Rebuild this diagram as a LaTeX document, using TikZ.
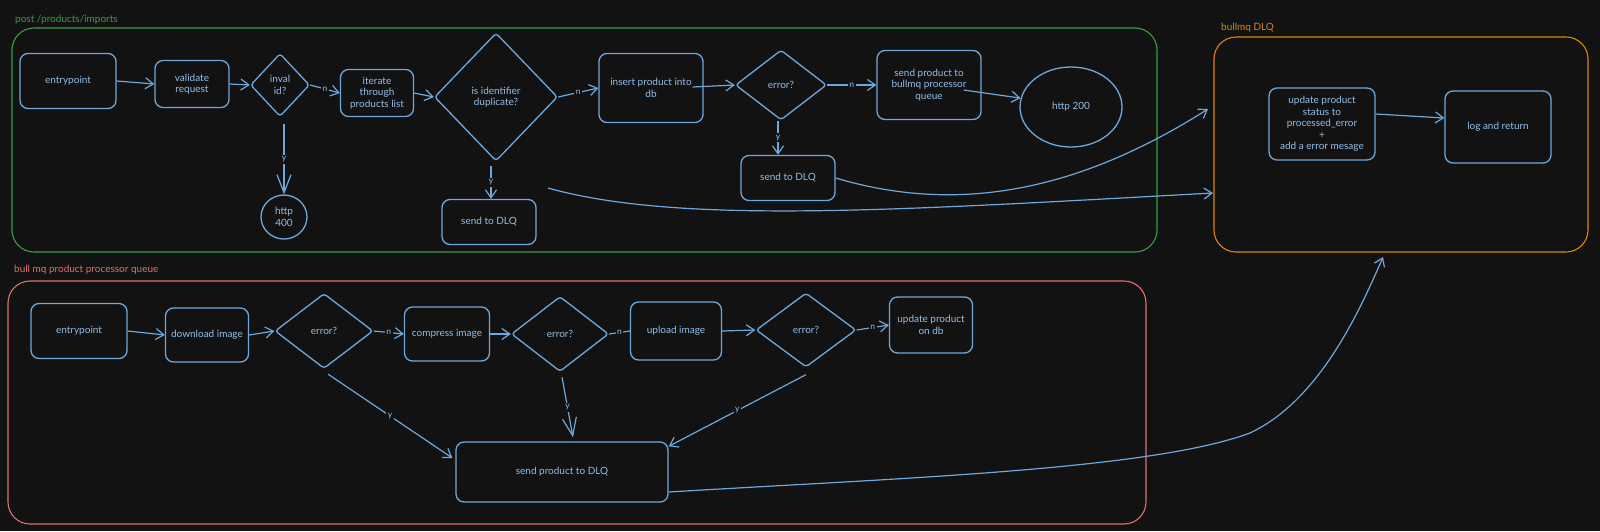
\documentclass[tikz,border=0pt]{standalone}
\usepackage{fontspec}
\setmainfont{Lato}
\usetikzlibrary{shapes.geometric,arrows.meta,calc}
\definecolor{bg}{HTML}{121212}
\definecolor{ink}{HTML}{6FA8DC}
\definecolor{txt}{HTML}{92BEE8}
\definecolor{grn}{HTML}{3E9B43}
\definecolor{org}{HTML}{D9860F}
\definecolor{rd}{HTML}{E0716C}
\begin{document}
\begin{tikzpicture}[x=1pt,y=-1pt,
  box/.style={draw=ink, rounded corners=8pt, line width=1.3pt, text=txt,
    font=\fontsize{10}{11.5}\selectfont, align=center, inner sep=0pt},
  dia/.style={draw=ink, diamond, rounded corners=3pt, line width=1.3pt, text=txt,
    font=\fontsize{10}{11.5}\selectfont, align=center, inner sep=0pt},
  ell/.style={draw=ink, ellipse, line width=1.3pt, text=txt,
    font=\fontsize{10}{11.5}\selectfont, align=center, inner sep=0pt},
  frm/.style={line width=1.1pt, rounded corners=22pt},
  ttl/.style={anchor=west, font=\fontsize{10}{11}\selectfont, inner sep=0pt},
  lbl/.style={fill=bg, text=txt, font=\fontsize{8.5}{9}\selectfont, inner sep=1.5pt},
  arr/.style={draw=ink, line width=1.2pt, -{Straight Barb[length=8pt,width=11pt]}},
  arrbig/.style={draw=ink, line width=1.2pt, -{Straight Barb[length=18pt,width=14pt]}},
  plain/.style={draw=ink, line width=1.2pt}
]
\fill[bg] (0,0) rectangle (1600,531);
\useasboundingbox (0,0) rectangle (1600,531);

% frames
\draw[frm, grn] (12,28) rectangle (1157,252);
\node[ttl, text=grn] (tg) at (15,20) {post /products/imports};
\draw[frm, org] (1214,37) rectangle (1588,252);
\node[ttl, text=org] (to) at (1221,28) {bullmq DLQ};
\draw[frm, rd] (8,281) rectangle (1146,524);
\node[ttl, text=rd] (tr) at (14,270) {bull mq product processor queue};

% top flow
\node[box, minimum width=96pt, minimum height=55pt] (e1) at (68,81) {entrypoint};
\node[box, minimum width=74pt, minimum height=47pt] (val) at (192,84) {validate\\request};
\node[dia, minimum width=59pt, minimum height=63pt] (inv) at (280,85) {inval\\id?};
\node[box, minimum width=73pt, minimum height=47pt] (it) at (377,93) {iterate\\through\\products list};
\node[dia, minimum width=123pt, minimum height=128pt] (dup) at (496,97) {is identifier\\duplicate?};
\node[box, minimum width=104pt, minimum height=69pt] (ins) at (651,88) {insert product into\\db};
\node[dia, minimum width=91pt, minimum height=70pt] (er1) at (781,85) {error?};
\node[box, minimum width=104pt, minimum height=69pt] (sp) at (929,85) {send product to\\bullmq processor\\queue};
\node[ell, minimum width=102pt, minimum height=80pt] (h200) at (1071,107) {http 200};
\node[ell, minimum width=46pt, minimum height=44pt] (h400) at (284,217) {http\\400};
\node[box, minimum width=94pt, minimum height=45pt] (dq1) at (489,222) {send to DLQ};
\node[box, minimum width=94pt, minimum height=45pt] (dq2) at (788,178) {send to DLQ};

% DLQ group
\node[box, minimum width=106pt, minimum height=72pt] (upd) at (1322,124) {update product\\status to\\processed\_error\\+\\add a error mesage};
\node[box, minimum width=106pt, minimum height=72pt] (lg) at (1498,127) {log and return};

% bottom flow
\node[box, minimum width=96pt, minimum height=55pt] (e2) at (79,331) {entrypoint};
\node[box, minimum width=83pt, minimum height=54pt] (dl) at (207,335) {download image};
\node[dia, minimum width=98pt, minimum height=75pt] (b1) at (324,331) {error?};
\node[box, minimum width=85pt, minimum height=54pt] (cp) at (447,334) {compress image};
\node[dia, minimum width=97pt, minimum height=75pt] (b2) at (560,334) {error?};
\node[box, minimum width=91pt, minimum height=58pt] (up) at (676,331) {upload image};
\node[dia, minimum width=100pt, minimum height=74pt] (b3) at (806,330) {error?};
\node[box, minimum width=83pt, minimum height=56pt] (udb) at (931,325) {update product\\on db};
\node[box, minimum width=212pt, minimum height=60pt] (bdq) at (562,472) {send product to DLQ};

% free ends
\coordinate (t1) at (1208,109);
\coordinate (s2) at (548,188);
\coordinate (t2) at (1213,193);
\coordinate (t3) at (1383,257);

% top connectors
\draw[arr] (e1.east) -- (val.west);
\draw[arr] (val.east) -- (inv.west);
\draw[arr] (inv.east) -- node[lbl]{n} (it.west);
\draw[arr] (it.east) -- (dup.west);
\draw[arr] (dup.east) -- node[lbl]{n} (ins.west);
\draw[arr] ($(ins.east)+(-11,-1)$) -- (er1.west);
\draw[arr] (er1.east) -- node[lbl]{n} (sp.west);
\draw[arr] ($(sp.east)+(-18,5)$) -- (h200.170);
\draw[arrbig] ($(inv.south)+(4,7)$) -- node[lbl]{y} (h400.north);
\draw[arr] ($(dup.south)+(-5,4)$) -- node[lbl]{y} ($(dq1.north)+(2,0)$);
\draw[arr] ($(er1.south)+(-3,0)$) -- node[lbl]{y} ($(dq2.north)+(-10,0)$);
\draw[arr] (dq2.east) .. controls (960,215) and (1080,190) .. (t1);
\draw[arr] (s2) .. controls (680,225) and (900,210) .. (t2);
\draw[arr] ($(upd.east)+(0,-10)$) -- ($(lg.west)+(0,-9)$);

% bottom connectors
\draw[arr] (e2.east) -- (dl.west);
\draw[arr] (dl.east) -- (b1.west);
\draw[arr] (b1.east) -- node[lbl]{n} (cp.west);
\draw[arr] (cp.east) -- (b2.west);
\draw[plain] (b2.east) -- node[lbl]{n} (up.west);
\draw[arr] (up.east) -- (b3.west);
\draw[arr] (b3.east) -- node[lbl]{n} (udb.west);
\draw[arr] ($(b1.south)+(4,5)$) -- node[lbl]{y} ($(bdq.west)+(-3,-14)$);
\draw[arrbig] ($(b2.south)+(2,5)$) -- node[lbl]{y} ($(bdq.north)+(11,-4)$);
\draw[arr] ($(b3.south)+(0,7)$) -- node[lbl]{y} ($(bdq.north east)+(0,5)$);
\draw[arr] ($(bdq.east)+(0,20)$) .. controls (900,478) and (1150,470) .. (1250,433)
  .. controls (1320,400) and (1360,310) .. (t3);
\end{tikzpicture}
\end{document}
